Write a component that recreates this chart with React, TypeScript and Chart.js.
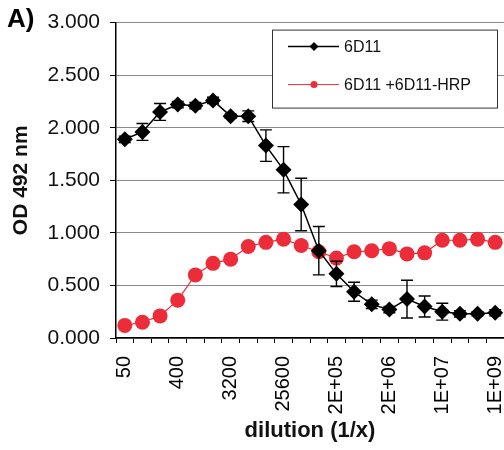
import React, { useEffect, useRef } from "react";
import { Chart, registerables } from "chart.js";

Chart.register(...registerables);

const dilutions = [
  "50", "100", "200", "400", "800", "1600", "3200", "6400", "12800", "25600", "51200",
  "1E+05", "2E+05", "4E+05", "8E+05", "2E+06", "3E+06", "7E+06", "1E+07", "3E+07", "5E+07", "1E+09",
];

const od6D11 = [
  1.89, 1.96, 2.15, 2.22, 2.21, 2.26, 2.11, 2.11, 1.83, 1.6, 1.27,
  0.83, 0.61, 0.44, 0.32, 0.27, 0.37, 0.3, 0.25, 0.23, 0.23, 0.24,
];

const err6D11 = [
  0.03, 0.08, 0.08, 0.03, 0.03, 0.03, 0.02, 0.05, 0.15, 0.22, 0.25,
  0.23, 0.12, 0.09, 0.04, 0.03, 0.18, 0.1, 0.08, 0.03, 0.02, 0.03,
];

const odMixHRP = [
  0.12, 0.15, 0.21, 0.36, 0.6, 0.71, 0.75, 0.87, 0.91, 0.94, 0.88,
  0.82, 0.76, 0.82, 0.83, 0.85, 0.8, 0.81, 0.93, 0.93, 0.94, 0.91,
];

const seriesLabels = ["6D11", "6D11 +6D11-HRP"];
const FONT = "'Liberation Sans', Arial, sans-serif";
const RED = "#ec2c38";

const errorBarPlugin = {
  id: "errorBars",
  afterDatasetsDraw(chart: any) {
    const { ctx } = chart;
    const meta = chart.getDatasetMeta(0);
    const ys = chart.scales.y;
    ctx.save();
    ctx.strokeStyle = "#000";
    ctx.lineWidth = 1.4;
    meta.data.forEach((pt: any, i: number) => {
      const v = od6D11[i];
      const e = err6D11[i];
      const yt = ys.getPixelForValue(v + e);
      const yb = ys.getPixelForValue(v - e);
      const x = pt.x;
      ctx.beginPath();
      ctx.moveTo(x, yt);
      ctx.lineTo(x, yb);
      ctx.moveTo(x - 6, yt);
      ctx.lineTo(x + 6, yt);
      ctx.moveTo(x - 6, yb);
      ctx.lineTo(x + 6, yb);
      ctx.stroke();
    });
    ctx.restore();
  },
};

const decorPlugin = {
  id: "decor",
  afterDraw(chart: any) {
    const { ctx, chartArea } = chart;
    ctx.save();
    // panel label
    ctx.fillStyle = "#000";
    ctx.font = `bold 26px ${FONT}`;
    ctx.textAlign = "left";
    ctx.textBaseline = "alphabetic";
    ctx.fillText("A)", 7, 27);

    // legend box
    const w = 225;
    const h = 78;
    const left = chartArea.right - 232;
    const top = chartArea.top + 7;
    ctx.fillStyle = "#fff";
    ctx.fillRect(left, top, w, h);
    ctx.strokeStyle = "#333";
    ctx.lineWidth = 1;
    ctx.strokeRect(left + 0.5, top + 0.5, w, h);

    const rows = [top + 17, top + 55];
    chart.data.datasets.forEach((ds: any, i: number) => {
      const y = rows[i];
      ctx.strokeStyle = ds.borderColor;
      ctx.lineWidth = i === 0 ? 1.5 : 1;
      ctx.beginPath();
      ctx.moveTo(left + 16, y);
      ctx.lineTo(left + 67, y);
      ctx.stroke();
      ctx.fillStyle = ds.backgroundColor;
      ctx.beginPath();
      if (i === 0) {
        const r = 4.5;
        ctx.moveTo(left + 42, y - r);
        ctx.lineTo(left + 42 + r, y);
        ctx.lineTo(left + 42, y + r);
        ctx.lineTo(left + 42 - r, y);
        ctx.closePath();
      } else {
        ctx.arc(left + 42, y, 3.5, 0, Math.PI * 2);
      }
      ctx.fill();
      ctx.fillStyle = "#111";
      ctx.font = `16px ${FONT}`;
      ctx.textBaseline = "middle";
      ctx.fillText(ds.label, left + 72, y + 1);
    });
    ctx.restore();
  },
};

export default function App() {
  const ref = useRef<HTMLCanvasElement | null>(null);

  useEffect(() => {
    if (!ref.current) return;
    const chart = new Chart(ref.current, {
      type: "line",
      data: {
        labels: dilutions,
        datasets: [
          {
            label: seriesLabels[0],
            data: od6D11,
            borderColor: "#000",
            backgroundColor: "#000",
            borderWidth: 1.5,
            pointStyle: "rectRot",
            pointRadius: 8,
            pointBorderWidth: 0,
            pointBackgroundColor: "#000",
            tension: 0,
          },
          {
            label: seriesLabels[1],
            data: odMixHRP,
            borderColor: RED,
            backgroundColor: RED,
            borderWidth: 1.2,
            pointStyle: "circle",
            pointRadius: 7.5,
            pointBorderWidth: 0,
            pointBackgroundColor: RED,
            tension: 0,
          },
        ],
      },
      options: {
        responsive: false,
        animation: false,
        layout: { padding: { top: 16, right: 4, left: 0, bottom: 0 } },
        plugins: {
          legend: { display: false },
          tooltip: { enabled: false },
        },
        scales: {
          x: {
            type: "category",
            offset: true,
            grid: {
              display: true,
              drawOnChartArea: false,
              drawTicks: true,
              tickLength: 5,
              offset: true,
              color: "#000",
              tickColor: "#000",
            },
            border: { color: "#000", width: 1.5 },
            ticks: {
              autoSkip: false,
              minRotation: 90,
              maxRotation: 90,
              padding: 13,
              color: "#000",
              font: { family: FONT, size: 20 },
              callback: (_v: any, i: number) => (i % 3 === 0 ? dilutions[i] : ""),
            },
            title: {
              display: true,
              text: "dilution (1/x)",
              color: "#111",
              font: { family: FONT, size: 22, weight: "bold" },
              padding: { top: 0, bottom: 6 },
            },
            afterFit: (s: any) => {
              s.height = 112;
              s.paddingLeft = 0;
              s.paddingRight = 0;
            },
          },
          y: {
            min: 0,
            max: 3,
            ticks: {
              stepSize: 0.5,
              padding: 10,
              color: "#111",
              font: { family: FONT, size: 21 },
              callback: (v: any) => Number(v).toFixed(3),
            },
            grid: {
              color: "#8a8a8a",
              lineWidth: 1,
              tickLength: 6,
              tickColor: "#000",
            },
            border: { color: "#000", width: 1.5 },
            title: {
              display: true,
              text: "OD 492 nm",
              color: "#111",
              font: { family: FONT, size: 21, weight: "bold" },
              padding: { top: 9, bottom: 0 },
            },
            afterFit: (s: any) => {
              s.width = 116;
            },
          },
        },
      },
      plugins: [errorBarPlugin, decorPlugin],
    });
    return () => chart.destroy();
  }, []);

  return (
    <div
      style={{
        position: "fixed",
        left: 0,
        top: 0,
        width: 504,
        height: 450,
        overflow: "hidden",
        background: "#fff",
      }}
    >
      <canvas ref={ref} width={512} height={450} style={{ display: "block", width: 512, height: 450 }} />
    </div>
  );
}
